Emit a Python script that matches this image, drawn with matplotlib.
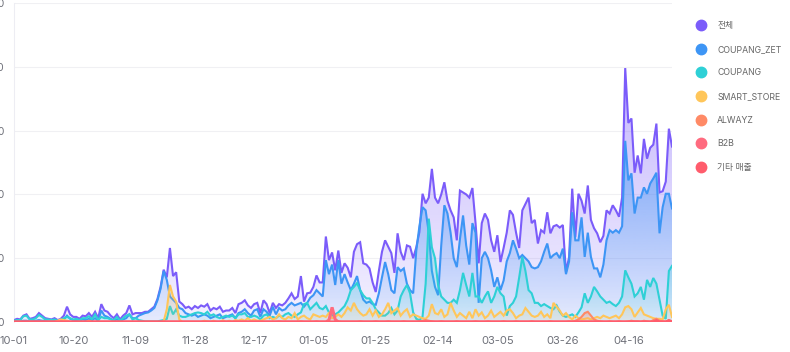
import numpy as np
import pandas as pd
import matplotlib
matplotlib.use("Agg")
import matplotlib.pyplot as plt
import matplotlib.dates as mdates
from matplotlib.lines import Line2D
from matplotlib.colors import to_rgb

plt.rcParams['font.family'] = ['Inter', 'Noto Sans CJK KR', 'DejaVu Sans']

# ---------- data (daily, 2024-10-01 .. 2025-04-30) ----------
dates = pd.date_range('2024-10-01', periods=212)

total = [
    3, 5, 4, 10, 12, 5, 6, 8, 14, 10,
    6, 5, 4, 6, 3, 5, 10, 24, 12, 8,
    8, 5, 10, 9, 14, 8, 16, 6, 28, 18,
    16, 10, 6, 12, 4, 10, 14, 26, 12, 14,
    14, 14, 16, 16, 20, 24, 36, 55, 82, 70,
    116, 72, 78, 32, 28, 22, 24, 20, 25, 22,
    26, 24, 28, 18, 22, 20, 24, 16, 18,
    18, 22, 14, 28, 30, 34, 26, 22, 28, 30,
    14, 34, 28, 14, 30, 22, 28, 26, 30, 37,
    45, 36, 40, 72, 32, 45, 46, 55, 73, 62,
    62, 134, 97, 109, 81, 112, 77, 92, 85, 70,
    110, 122, 125, 92, 90, 84, 62, 47, 80, 110,
    128, 118, 108, 77, 139, 110, 97, 120, 118, 100,
    117, 141, 201, 186, 195, 240, 195, 186, 200, 219,
    190, 175, 164, 128, 206, 203, 200, 195, 210, 155,
    92, 155, 170, 160, 128, 110, 136, 94, 116,
    140, 175, 168, 140, 116, 175, 185, 195, 155, 160,
    123, 144, 140, 172, 139, 150, 152, 148, 152, 78,
    102, 209, 133, 201, 190, 170, 214, 160, 147, 139,
    125, 135, 175, 170, 183, 175, 165, 195, 398, 312,
    319, 234, 261, 233, 287, 256, 273, 278, 311, 203,
    205, 220, 303, 275,
]

coupang_zet = [
    1, 2, 1, 2, 2, 1, 2, 2, 3, 2,
    2, 1, 1, 2, 1, 2, 4, 10, 5, 3,
    3, 2, 4, 3, 5, 3, 6, 2, 18, 10,
    8, 5, 2, 4, 2, 4, 6, 12, 6, 6,
    10, 12, 14, 15, 18, 22, 34, 52, 80, 66,
    40, 35, 30, 22, 20, 14, 12, 10, 12, 8,
    10, 12, 10, 6, 8, 10, 12, 6, 8,
    10, 12, 6, 14, 16, 20, 14, 10, 18, 20,
    8, 20, 16, 10, 24, 12, 22, 18, 20, 26,
    30, 26, 28, 30, 24, 30, 38, 42, 50, 45,
    40, 97, 75, 90, 58, 97, 60, 75, 62, 50,
    60, 72, 50, 35, 30, 32, 28, 27, 45, 70,
    94, 75, 50, 45, 86, 80, 84, 60, 50, 45,
    112, 150, 180, 175, 140, 80, 55, 42, 120, 183,
    170, 140, 100, 86, 130, 167, 120, 90, 155, 140,
    30, 100, 110, 100, 81, 55, 70, 50, 65,
    95, 108, 128, 115, 100, 105, 100, 95, 86, 84,
    86, 95, 110, 123, 100, 105, 108, 100, 115, 75,
    95, 172, 128, 128, 164, 102, 140, 102, 84, 84,
    70, 90, 128, 144, 140, 144, 140, 150, 284, 222,
    233, 170, 195, 195, 211, 201, 217, 225, 234, 139,
    180, 201, 201, 178,
]

coupang = [
    2, 3, 3, 9, 10, 4, 4, 6, 11, 8,
    4, 4, 3, 4, 2, 3, 6, 8, 6, 4,
    5, 3, 6, 6, 9, 4, 12, 3, 8, 6,
    6, 4, 3, 8, 2, 6, 10, 12, 4, 6,
    3, 2, 1, 1, 1, 1, 1, 2, 3, 5,
    25, 12, 20, 10, 8, 8, 10, 12, 14, 15,
    14, 12, 16, 10, 12, 8, 6, 8, 10,
    8, 10, 6, 12, 12, 14, 8, 8, 10, 8,
    4, 10, 12, 6, 8, 6, 10, 8, 12, 14,
    10, 8, 12, 15, 28, 30, 20, 25, 30, 22,
    20, 25, 15, 10, 12, 15, 20, 25, 35, 50,
    55, 61, 50, 42, 37, 37, 30, 20, 15, 10,
    10, 14, 22, 12, 18, 40, 50, 58, 45, 15,
    5, 3, 8, 60, 162, 117, 100, 58, 40, 35,
    30, 30, 35, 30, 50, 77, 58, 40, 77, 40,
    40, 30, 40, 48, 30, 40, 55, 45, 40,
    10, 25, 30, 40, 70, 102, 80, 50, 45, 30,
    30, 25, 28, 25, 22, 20, 26, 16, 10, 8,
    10, 12, 8, 15, 23, 45, 30, 40, 55, 48,
    40, 35, 30, 32, 28, 25, 30, 40, 81, 70,
    60, 40, 45, 55, 35, 66, 55, 69, 60, 35,
    10, 5, 80, 88,
]

smart_store = [
    0, 0, 0, 0, 0, 0, 0, 0, 0, 0,
    0, 0, 0, 0, 2, 4, 3, 2, 0, 0,
    0, 0, 0, 0, 2, 0, 0, 0, 0, 0,
    0, 0, 0, 0, 0, 0, 0, 0, 0, 0,
    0, 0, 0, 0, 0, 0, 0, 0, 1, 20,
    58, 40, 32, 4, 0, 0, 0, 0, 0, 0,
    0, 2, 1, 0, 2, 0, 0, 3, 0,
    2, 0, 3, 2, 4, 2, 6, 2, 4, 2,
    2, 4, 6, 8, 4, 6, 12, 6, 4, 8,
    6, 14, 4, 8, 10, 6, 4, 12, 10, 8,
    10, 8, 14, 6, 8, 12, 8, 14, 23, 18,
    30, 20, 14, 10, 12, 20, 10, 18, 8, 12,
    20, 30, 14, 18, 22, 10, 16, 20, 8, 12,
    10, 8, 6, 5, 10, 28, 14, 12, 20, 8,
    12, 30, 18, 8, 14, 10, 6, 16, 6, 20,
    10, 15, 6, 10, 18, 8, 12, 16, 10,
    18, 20, 14, 6, 10, 12, 22, 16, 10, 8,
    10, 16, 8, 12, 6, 30, 24, 18, 10, 14,
    8, 4, 10, 6, 4, 5, 6, 4, 6, 8,
    6, 10, 8, 6, 8, 10, 6, 12, 23, 25,
    20, 8, 15, 22, 12, 10, 8, 6, 5, 5,
    4, 20, 27, 8,
]

alwayz = [
    0, 0, 0, 0, 0, 0, 0, 0, 0, 0,
    0, 0, 0, 0, 0, 0, 0, 0, 0, 0,
    0, 0, 0, 0, 0, 0, 0, 0, 0, 0,
    0, 0, 0, 0, 0, 0, 0, 0, 0, 0,
    0, 0, 0, 0, 0, 0, 0, 0, 0, 0,
    0, 0, 0, 0, 0, 0, 0, 0, 0, 0,
    0, 0, 0, 0, 0, 0, 0, 0, 0, 0,
    0, 0, 0, 0, 0, 0, 0, 0, 0, 0,
    0, 0, 0, 0, 0, 1, 0, 0, 0, 0,
    0, 0, 1, 0, 0, 0, 0, 1, 0, 0,
    0, 0, 0, 0, 1, 0, 0, 0, 0, 0,
    0, 1, 0, 0, 0, 0, 1, 0, 0, 0,
    1, 0, 0, 0, 0, 1, 0, 0, 0, 0,
    1, 2, 3, 2, 1, 0, 0, 1, 0, 0,
    0, 0, 1, 0, 0, 0, 0, 0, 1, 0,
    0, 0, 1, 0, 0, 0, 0, 1, 0, 0,
    0, 1, 0, 0, 0, 0, 1, 0, 0, 0,
    0, 0, 1, 0, 0, 0, 0, 0, 1, 0,
    2, 4, 8, 14, 16, 10, 4, 2, 1, 0,
    0, 1, 0, 0, 1, 0, 0, 1, 2, 1,
    1, 0, 2, 1, 0, 3, 5, 2, 1, 0,
    3, 1,
]

b2b = [0] * 10 * 10 + [
    0, 3, 23, 4, 0, 0, 0, 0, 0, 0,
] + [0] * 102

etc_sales = [
    0, 0, 0, 0, 0, 0, 0, 0, 0, 0,
    0, 0, 0, 0, 0, 0, 0, 0, 0, 0,
    0, 0, 0, 0, 0, 0, 0, 0, 0, 0,
    0, 0, 0, 0, 0, 0, 0, 0, 0, 0,
    0, 0, 0, 0, 0, 0, 0, 0, 0, 0,
    0, 0, 0, 0, 0, 0, 0, 0, 0, 0,
    0, 0, 0, 0, 0, 0, 0, 0, 0, 0,
    0, 0, 0, 0, 0, 0, 0, 0, 0, 0,
    0, 0, 0, 0, 0, 0, 0, 0, 0, 0,
    0, 0, 0, 0, 0, 0, 0, 0, 0, 0,
    0, 0, 0, 0, 0, 0, 0, 0, 0, 0,
    0, 0, 0, 0, 0, 0, 0, 0, 0, 0,
    0, 0, 0, 0, 0, 0, 0, 0, 0, 0,
    0, 0, 0, 0, 0, 0, 0, 0, 0, 0,
    0, 0, 0, 0, 0, 0, 0, 0, 0, 0,
    0, 0, 0, 0, 0, 0, 0, 0, 0, 0,
    0, 0, 0, 0, 0, 0, 0, 0, 0, 0,
    0, 0, 0, 0, 0, 0, 0, 0, 0, 0,
    0, 0, 0, 0, 0, 0, 0, 0, 0, 0,
    0, 0, 0, 0, 0, 0, 0, 0, 0, 0,
    0, 0, 0, 0, 0, 0, 2, 0, 0, 0,
    2, 0,
]

labels = ['전체', 'COUPANG_ZET', 'COUPANG', 'SMART_STORE', 'ALWAYZ', 'B2B', '기타 매출']
series = [total, coupang_zet, coupang, smart_store, alwayz, b2b, etc_sales]
colors = ['#7B5CFA', '#3D95F5', '#2ED0D6', '#FFC65A', '#FF8A66', '#FF6B7F', '#FF5C6C']
fill_alpha = [0.45, 0.55, 0.45, 0.3, 0.45, 0.4, 0.4]

tick_dates = pd.to_datetime(['2024-10-01', '2024-10-20', '2024-11-09', '2024-11-28',
                             '2024-12-17', '2025-01-05', '2025-01-25', '2025-02-14',
                             '2025-03-05', '2025-03-26', '2025-04-16'])
y_ticks = [0, 100, 200, 300, 400, 500]

# ---------- plotting ----------
fig = plt.figure(figsize=(7.9, 3.52), dpi=100)
ax = fig.add_axes([14 / 790, 1 - 322 / 352, 658 / 790, 319 / 352])

x = mdates.date2num(dates)


def gradient_fill(ax, x, y, color, a_top, z):
    # area under the line, fading towards the baseline
    y = np.asarray(y, dtype=float)
    top = max(y.max(), 1)
    poly = ax.fill_between(x, 0, y, facecolor='none', edgecolor='none', zorder=z)
    grad = np.zeros((100, 1, 4))
    grad[:, :, :3] = to_rgb(color)
    grad[:, 0, 3] = np.linspace(0.08, a_top, 100)
    im = ax.imshow(grad, aspect='auto', origin='lower',
                   extent=[x[0], x[-1], 0, top], zorder=z, interpolation='bilinear')
    im.set_clip_path(poly.get_paths()[0], transform=ax.transData)


for i, (vals, c) in enumerate(zip(series, colors)):
    z = 2 + i * 2
    if max(vals) > 0:
        gradient_fill(ax, x, vals, c, fill_alpha[i], z)
    lw = 2.2 if i >= 5 else 1.5
    ax.plot(dates, vals, color=c, lw=lw, zorder=z + 1, solid_joinstyle='miter')

ax.set_xlim(dates[0], dates[-1])
ax.set_ylim(0, 500)
ax.set_xticks(tick_dates)
ax.xaxis.set_major_formatter(mdates.DateFormatter('%m-%d'))
ax.set_yticks(y_ticks)
ax.set_yticklabels([f'{v:,}' for v in y_ticks])
ax.tick_params(axis='x', length=0, pad=10, labelsize=8, labelcolor='#6E7079')
ax.tick_params(axis='y', length=0, pad=7, labelsize=7.5, labelcolor='#6E7079')
ax.grid(axis='y', color='#F0F0F3', lw=0.8, zorder=0)
ax.set_axisbelow(True)
for s in ['top', 'right', 'bottom']:
    ax.spines[s].set_visible(False)
ax.spines['left'].set_color('#EDEDF3')
ax.spines['left'].set_linewidth(0.8)

handles = [Line2D([], [], marker='o', ls='none', markersize=7.5, color=c) for c in colors]
fig.legend(handles, labels, loc='upper left', bbox_to_anchor=(697 / 790, 1 - 21 / 352),
           frameon=False, fontsize=6.3, labelcolor='#666666', handlelength=1.0,
           handletextpad=1.3, labelspacing=1.68, borderaxespad=0, borderpad=0)

fig.savefig('out.png', dpi=100)
